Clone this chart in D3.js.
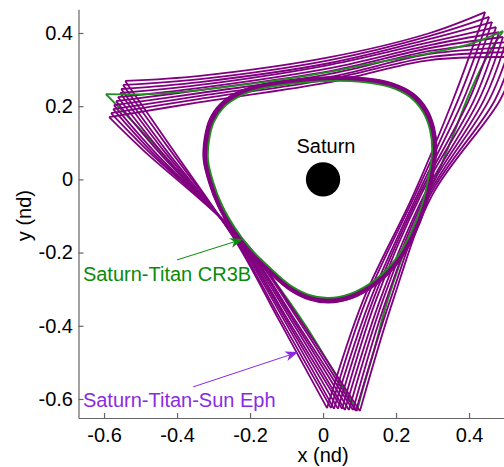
<!DOCTYPE html>
<html>
<head>
<meta charset="utf-8">
<script src="https://cdn.jsdelivr.net/npm/d3@7"></script>
<style>
  body { margin: 0; background: #fff; }
  svg text { font-family: "Liberation Sans", Arial, Helvetica, sans-serif; }
</style>
</head>
<body>
<svg id="chart" width="504" height="467"></svg>
<script>
// ---- axis ticks -------------------------------------------------------
const xTicks = [-0.6, -0.4, -0.2, 0, 0.2, 0.4];
const xTickLabels = ["-0.6", "-0.4", "-0.2", "0", "0.2", "0.4"];
const yTicks = [-0.6, -0.4, -0.2, 0, 0.2, 0.4];
const yTickLabels = ["-0.6", "-0.4", "-0.2", "0", "0.2", "0.4"];

// ---- Saturn-Titan CR3B periodic orbit (rotating frame, nd) -------------
const cr3bTopLeg = [[0.493, 0.405], [0.403, 0.370], [0.293, 0.345], [0.156, 0.321],
  [0.047, 0.299], [-0.063, 0.280], [-0.200, 0.261], [-0.337, 0.244], [-0.474, 0.233], [-0.595, 0.233]];
const cr3bLeftLeg = [[-0.595, 0.233], [-0.474, 0.108], [-0.348, -0.035], [-0.233, -0.152],
  [-0.140, -0.269], [-0.049, -0.398], [0.038, -0.540], [0.093, -0.633]];
const cr3bRightLeg = [[0.093, -0.633], [0.112, -0.562], [0.140, -0.466], [0.173, -0.343],
  [0.216, -0.215], [0.266, -0.089], [0.318, 0.026], [0.362, 0.135], [0.397, 0.225],
  [0.433, 0.304], [0.463, 0.359], [0.493, 0.405]];
const cr3bInnerLoop = [[-0.315, 0.053], [-0.312, 0.108], [-0.299, 0.157], [-0.271, 0.198],
  [-0.227, 0.228], [-0.173, 0.247], [-0.090, 0.261], [0.019, 0.269], [0.110, 0.266],
  [0.184, 0.252], [0.238, 0.225], [0.274, 0.184], [0.293, 0.135], [0.299, 0.080],
  [0.290, 0.012], [0.271, -0.070], [0.238, -0.152], [0.197, -0.220], [0.142, -0.275],
  [0.074, -0.313], [0.014, -0.324], [-0.036, -0.316], [-0.090, -0.289], [-0.145, -0.242],
  [-0.200, -0.188], [-0.241, -0.133], [-0.277, -0.070], [-0.301, -0.007]];

// ---- Saturn-Titan-Sun ephemeris run: one value per revolution ----------
// upper-left apse
const ephULx = [-0.542, -0.548, -0.553, -0.556, -0.562, -0.567, -0.573, -0.575, -0.581, -0.586];
const ephULy = [0.269, 0.258, 0.247, 0.236, 0.225, 0.214, 0.203, 0.192, 0.181, 0.170];
// left leg
const ephL1x = [-0.411, -0.419, -0.430, -0.438, -0.447, -0.455, -0.466, -0.474, -0.482, -0.493];
const ephL1y = [0.080, 0.080, 0.080, 0.080, 0.080, 0.080, 0.080, 0.080, 0.080, 0.080];
const ephL2x = [-0.238, -0.236, -0.233, -0.230, -0.227, -0.225, -0.222, -0.219, -0.216, -0.214];
const ephL2y = [-0.171, -0.171, -0.171, -0.171, -0.171, -0.171, -0.171, -0.171, -0.171, -0.171];
const ephL3x = [-0.121, -0.115, -0.107, -0.101, -0.096, -0.088, -0.082, -0.077, -0.068, -0.063];
const ephL3y = [-0.384, -0.384, -0.384, -0.384, -0.384, -0.384, -0.384, -0.384, -0.384, -0.384];
// bottom apse
const ephBx = [0.011, 0.022, 0.030, 0.041, 0.052, 0.060, 0.071, 0.082, 0.090, 0.101];
const ephBy = [-0.625, -0.625, -0.627, -0.627, -0.627, -0.630, -0.630, -0.630, -0.633, -0.633];
// right leg
const ephR1x = [0.110, 0.118, 0.129, 0.137, 0.145, 0.156, 0.164, 0.173, 0.184, 0.192];
const ephR1y = [-0.330, -0.330, -0.330, -0.330, -0.330, -0.330, -0.330, -0.330, -0.330, -0.330];
const ephR2x = [0.247, 0.252, 0.258, 0.263, 0.268, 0.277, 0.282, 0.288, 0.293, 0.299];
const ephR2y = [-0.043, -0.043, -0.043, -0.043, -0.043, -0.043, -0.043, -0.043, -0.043, -0.043];
const ephR3x = [0.356, 0.370, 0.384, 0.400, 0.414, 0.427, 0.441, 0.455, 0.471, 0.485];
const ephR3y = [0.217, 0.217, 0.217, 0.217, 0.217, 0.217, 0.217, 0.217, 0.217, 0.217];
// upper-right apse
const ephURx = [0.444, 0.455, 0.463, 0.474, 0.482, 0.493, 0.501, 0.512, 0.521, 0.532];
const ephURy = [0.457, 0.444, 0.430, 0.416, 0.402, 0.389, 0.375, 0.361, 0.348, 0.334];
// top leg
const ephT1x = [0.293, 0.293, 0.293, 0.293, 0.293, 0.293, 0.293, 0.293, 0.293, 0.293];
const ephT1y = [0.400, 0.392, 0.384, 0.375, 0.367, 0.359, 0.351, 0.343, 0.334, 0.326];
const ephT2x = [0.019, 0.019, 0.019, 0.019, 0.019, 0.019, 0.019, 0.019, 0.019, 0.019];
const ephT2y = [0.334, 0.326, 0.318, 0.313, 0.304, 0.296, 0.288, 0.280, 0.274, 0.266];
const ephT3x = [-0.337, -0.337, -0.337, -0.337, -0.337, -0.337, -0.337, -0.337, -0.337, -0.337];
const ephT3y = [0.283, 0.274, 0.266, 0.258, 0.250, 0.244, 0.236, 0.228, 0.220, 0.211];
// inner pass size relative to the CR3B loop, per revolution
const ephLoopScale = [1.006, 1.010, 1.014, 1.018, 1.022, 1.026, 1.030, 1.034, 1.038, 1.042];

const saturnRadius = 0.047;

// ---- layout -----------------------------------------------------------
const svg = d3.select("#chart");
const x = d3.scaleLinear().domain([-0.67, 0.5]).range([78.5, 505.55]);
const y = d3.scaleLinear().domain([-0.652, 0.465]).range([418, 9.2]);

const purple = "#800080";
const green = "#228b22";
const labelGreen = "#0a8a0a";
const violet = "#8a2be2";
const fontSize = 20;

const openCurve = d3.line().x(d => x(d[0])).y(d => y(d[1])).curve(d3.curveCatmullRom.alpha(0.5));
const closedCurve = d3.line().x(d => x(d[0])).y(d => y(d[1])).curve(d3.curveCatmullRomClosed.alpha(0.5));

// ---- CR3B side legs (beneath the ephemeris band) ---------------------------
const gCrLegs = svg.append("g").attr("fill", "none").attr("stroke", green)
  .attr("stroke-width", 2).attr("stroke-linejoin", "round");
[cr3bLeftLeg, cr3bRightLeg].forEach(leg =>
  gCrLegs.append("path").attr("d", openCurve(leg)));

// ---- ephemeris trajectories ---------------------------------------------
const gEph = svg.append("g").attr("fill", "none").attr("stroke", purple)
  .attr("stroke-width", 1.8).attr("stroke-linejoin", "round");

ephULx.forEach((_, k) => {
  const UL = [ephULx[k], ephULy[k]];
  const B = [ephBx[k], ephBy[k]];
  const UR = [ephURx[k], ephURy[k]];
  const left = [UL, [ephL1x[k], ephL1y[k]], [ephL2x[k], ephL2y[k]], [ephL3x[k], ephL3y[k]], B];
  const right = [B, [ephR1x[k], ephR1y[k]], [ephR2x[k], ephR2y[k]], [ephR3x[k], ephR3y[k]], UR];
  const top = [UR, [ephT1x[k], ephT1y[k]], [ephT2x[k], ephT2y[k]], [ephT3x[k], ephT3y[k]], UL];
  gEph.append("path").attr("d", openCurve(left));
  gEph.append("path").attr("d", openCurve(right));
  gEph.append("path").attr("d", openCurve(top));
  const s = ephLoopScale[k];
  gEph.append("path").attr("stroke-width", 1.3)
    .attr("d", closedCurve(cr3bInnerLoop.map(p => [p[0] * s, p[1] * s])));
});

// ---- CR3B top leg and inner loop --------------------------------------------
svg.append("path").attr("d", openCurve(cr3bTopLeg))
  .attr("fill", "none").attr("stroke", green).attr("stroke-width", 1.8);
svg.append("path").attr("d", closedCurve(cr3bInnerLoop))
  .attr("fill", "none").attr("stroke", green).attr("stroke-width", 1.8);

// ---- Saturn ---------------------------------------------------------------
svg.append("circle").attr("cx", x(0)).attr("cy", y(0))
  .attr("r", x(saturnRadius) - x(0)).attr("fill", "#000");
svg.append("text").attr("x", x(0.008)).attr("y", y(0.072))
  .attr("text-anchor", "middle").attr("font-size", fontSize).attr("fill", "#000").text("Saturn");

// ---- axes ---------------------------------------------------------------
const xAxis = d3.axisBottom(x).tickValues(xTicks)
  .tickFormat((d, i) => xTickLabels[i]).tickSizeInner(-5).tickSizeOuter(0).tickPadding(10);
const yAxis = d3.axisLeft(y).tickValues(yTicks)
  .tickFormat((d, i) => yTickLabels[i]).tickSizeInner(-5).tickSizeOuter(0).tickPadding(5.5);

function styleAxis(g) {
  g.select(".domain").attr("stroke", "#666").attr("stroke-width", 1.2);
  g.selectAll(".tick line").attr("stroke", "#666").attr("stroke-width", 1.2);
  g.selectAll(".tick text").attr("fill", "#000").attr("font-size", fontSize)
    .attr("font-family", "'Liberation Sans', Arial, sans-serif");
}
svg.append("g").attr("transform", `translate(0,${y(-0.652)})`).call(xAxis).call(styleAxis);
svg.append("g").attr("transform", `translate(${x(-0.67)},0)`).call(yAxis).call(styleAxis);

svg.append("text").attr("x", x(0)).attr("y", 462).attr("text-anchor", "middle")
  .attr("font-size", fontSize).attr("fill", "#000").text("x (nd)");
svg.append("text").attr("transform", `translate(31,${(y(-0.652) + y(0.465)) / 2 + 2}) rotate(-90)`)
  .attr("text-anchor", "middle").attr("font-size", fontSize).attr("fill", "#000").text("y (nd)");

// ---- annotations ----------------------------------------------------------
function arrow(from, to, color) {
  const x0 = x(from[0]), y0 = y(from[1]), x1 = x(to[0]), y1 = y(to[1]);
  const dx = x1 - x0, dy = y1 - y0, len = Math.hypot(dx, dy);
  const ux = dx / len, uy = dy / len, nx = -uy, ny = ux;
  const L = 13, W = 5;
  svg.append("line").attr("x1", x0).attr("y1", y0)
    .attr("x2", x1 - ux * L * 0.7).attr("y2", y1 - uy * L * 0.7)
    .attr("stroke", color).attr("stroke-width", 1);
  const pts = [
    [x1, y1],
    [x1 - ux * L + nx * W, y1 - uy * L + ny * W],
    [x1 - ux * L * 0.72, y1 - uy * L * 0.72],
    [x1 - ux * L - nx * W, y1 - uy * L - ny * W]
  ];
  svg.append("path").attr("d", "M" + pts.map(p => p.join(",")).join("L") + "Z").attr("fill", color);
}

arrow([-0.400, -0.220], [-0.219, -0.163], labelGreen);
svg.append("text").attr("x", x(-0.658)).attr("y", y(-0.278))
  .attr("font-size", fontSize).attr("fill", labelGreen).text("Saturn-Titan CR3B");

arrow([-0.356, -0.567], [-0.068, -0.472], violet);
svg.append("text").attr("x", x(-0.658)).attr("y", y(-0.622))
  .attr("font-size", fontSize).attr("fill", violet).text("Saturn-Titan-Sun Eph");
</script>
</body>
</html>
